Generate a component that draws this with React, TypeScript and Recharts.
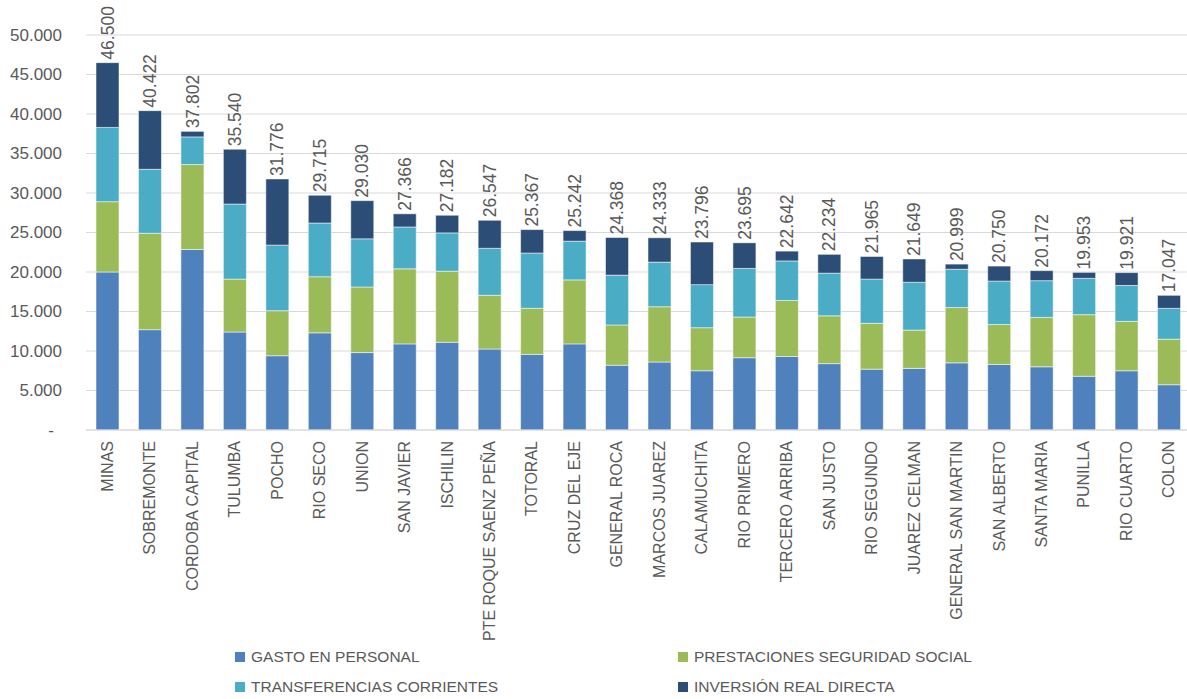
import React from "react";
import {
  BarChart,
  Bar,
  XAxis,
  YAxis,
  CartesianGrid,
  Legend,
  LabelList,
} from "recharts";

const departamentos = [
  "MINAS",
  "SOBREMONTE",
  "CORDOBA CAPITAL",
  "TULUMBA",
  "POCHO",
  "RIO SECO",
  "UNION",
  "SAN JAVIER",
  "ISCHILIN",
  "PTE ROQUE SAENZ PEÑA",
  "TOTORAL",
  "CRUZ DEL EJE",
  "GENERAL ROCA",
  "MARCOS JUAREZ",
  "CALAMUCHITA",
  "RIO PRIMERO",
  "TERCERO ARRIBA",
  "SAN JUSTO",
  "RIO SEGUNDO",
  "JUAREZ CELMAN",
  "GENERAL SAN MARTIN",
  "SAN ALBERTO",
  "SANTA MARIA",
  "PUNILLA",
  "RIO CUARTO",
  "COLON",
];

const gastoPersonal = [
  20000, 12700, 22850, 12400, 9400, 12300, 9800, 10900, 11100, 10250, 9570,
  10900, 8200, 8600, 7500, 9150, 9300, 8400, 7700, 7800, 8500, 8300, 8000, 6800,
  7500, 5730,
];
const prestaciones = [
  8900, 12200, 10750, 6700, 5700, 7100, 8300, 9500, 9000, 6800, 5830, 8100,
  5100, 7000, 5450, 5150, 7100, 6050, 5800, 4850, 7000, 5050, 6250, 7800, 6250,
  5770,
];
const transferencias = [
  9400, 8100, 3500, 9500, 8300, 6800, 6100, 5300, 4850, 5950, 7000, 4900, 6300,
  5650, 5450, 6150, 5000, 5400, 5600, 6050, 4850, 5500, 4650, 4600, 4550, 3900,
];
const inversion = [
  8200, 7422, 702, 6940, 8376, 3515, 4830, 1666, 2232, 3547, 2967, 1342, 4768,
  3083, 5396, 3245, 1242, 2384, 2865, 2949, 649, 1900, 1272, 753, 1621, 1647,
];
const totales = [
  46500, 40422, 37802, 35540, 31776, 29715, 29030, 27366, 27182, 26547, 25367,
  25242, 24368, 24333, 23796, 23695, 22642, 22234, 21965, 21649, 20999, 20750,
  20172, 19953, 19921, 17047,
];

const yTicks = [0, 5000, 10000, 15000, 20000, 25000, 30000, 35000, 40000, 45000, 50000];

const data = departamentos.map((name, i) => ({
  name,
  gasto: gastoPersonal[i],
  prest: prestaciones[i],
  trans: transferencias[i],
  inv: inversion[i],
  total: totales[i],
}));

const series = [
  { key: "gasto", label: "GASTO EN PERSONAL", color: "#4F81BD" },
  { key: "prest", label: "PRESTACIONES SEGURIDAD SOCIAL", color: "#9BBB59" },
  { key: "trans", label: "TRANSFERENCIAS CORRIENTES", color: "#4BACC6" },
  { key: "inv", label: "INVERSIÓN REAL DIRECTA", color: "#2C4D75" },
];

const FONT = '"Liberation Sans", Arial, sans-serif';
const TEXT = "#595959";

const fmt = (v: number) => String(v).replace(/\B(?=(\d{3})+(?!\d))/g, ".");

const YTick = ({ x, y, payload }: any) => {
  const v = payload.value;
  return (
    <text
      x={v === 0 ? x - 8 : x}
      y={y}
      dy="0.35em"
      textAnchor="end"
      fill={TEXT}
      fontSize={17}
      fontFamily={FONT}
    >
      {v === 0 ? "-" : fmt(v)}
    </text>
  );
};

const XTick = ({ x, y, payload }: any) => (
  <text
    x={x}
    y={y + 11}
    dy="0.35em"
    textAnchor="end"
    transform={`rotate(-90, ${x}, ${y + 11})`}
    fill={TEXT}
    fontSize={16}
    fontFamily={FONT}
  >
    {payload.value}
  </text>
);

const TotalLabel = ({ x, y, width, index }: any) => {
  const cx = x + width / 2;
  const ty = y - 3;
  return (
    <text
      x={cx}
      y={ty}
      dy="0.35em"
      textAnchor="start"
      transform={`rotate(-90, ${cx}, ${ty})`}
      fill={TEXT}
      fontSize={17.5}
      fontFamily={FONT}
    >
      {fmt(totales[index])}
    </text>
  );
};

// legend laid out in two columns like the original
const legendPos = [
  { left: 235, top: 27 },
  { left: 678, top: 27 },
  { left: 235, top: 57 },
  { left: 678, top: 57 },
];

const renderLegend = () => (
  <div style={{ position: "relative", width: 1187, height: 69 }}>
    {series.map((s, i) => (
      <div
        key={s.key}
        style={{
          position: "absolute",
          left: legendPos[i].left,
          top: legendPos[i].top - 10,
          height: 20,
          display: "flex",
          alignItems: "center",
          fontFamily: FONT,
          fontSize: 15.5,
          color: TEXT,
          whiteSpace: "nowrap",
        }}
      >
        <span
          style={{
            display: "inline-block",
            width: 10,
            height: 10,
            background: s.color,
            marginRight: 6,
          }}
        />
        {s.label}
      </div>
    ))}
  </div>
);

export default function App() {
  return (
    <div
      style={{
        position: "absolute",
        left: 0,
        top: 0,
        width: 1187,
        height: 699,
        overflow: "hidden",
        background: "#fff",
      }}
    >
      <BarChart
        width={1190}
        height={699}
        data={data}
        margin={{ top: 35, right: 0, bottom: 0, left: 0 }}
        barSize={23}
      >
        <CartesianGrid vertical={false} stroke="#D9D9D9" strokeWidth={1.2} />
        <XAxis
          dataKey="name"
          interval={0}
          height={200}
          tickLine={false}
          tickSize={0}
          tickMargin={0}
          axisLine={{ stroke: "#D9D9D9", strokeWidth: 1.2 }}
          tick={<XTick />}
        />
        <YAxis
          width={86}
          domain={[0, 50000]}
          ticks={yTicks}
          interval={0}
          axisLine={false}
          tickLine={false}
          tickSize={0}
          tickMargin={24}
          tick={<YTick />}
        />
        <Legend verticalAlign="bottom" content={renderLegend} />
        {series.map((s) => (
          <Bar
            key={s.key}
            dataKey={s.key}
            stackId="a"
            fill={s.color}
            stroke="#ffffff"
            strokeOpacity={0.5}
            strokeWidth={1}
            isAnimationActive={false}
          >
            {s.key === "inv" && <LabelList dataKey="total" content={<TotalLabel />} />}
          </Bar>
        ))}
      </BarChart>
    </div>
  );
}
